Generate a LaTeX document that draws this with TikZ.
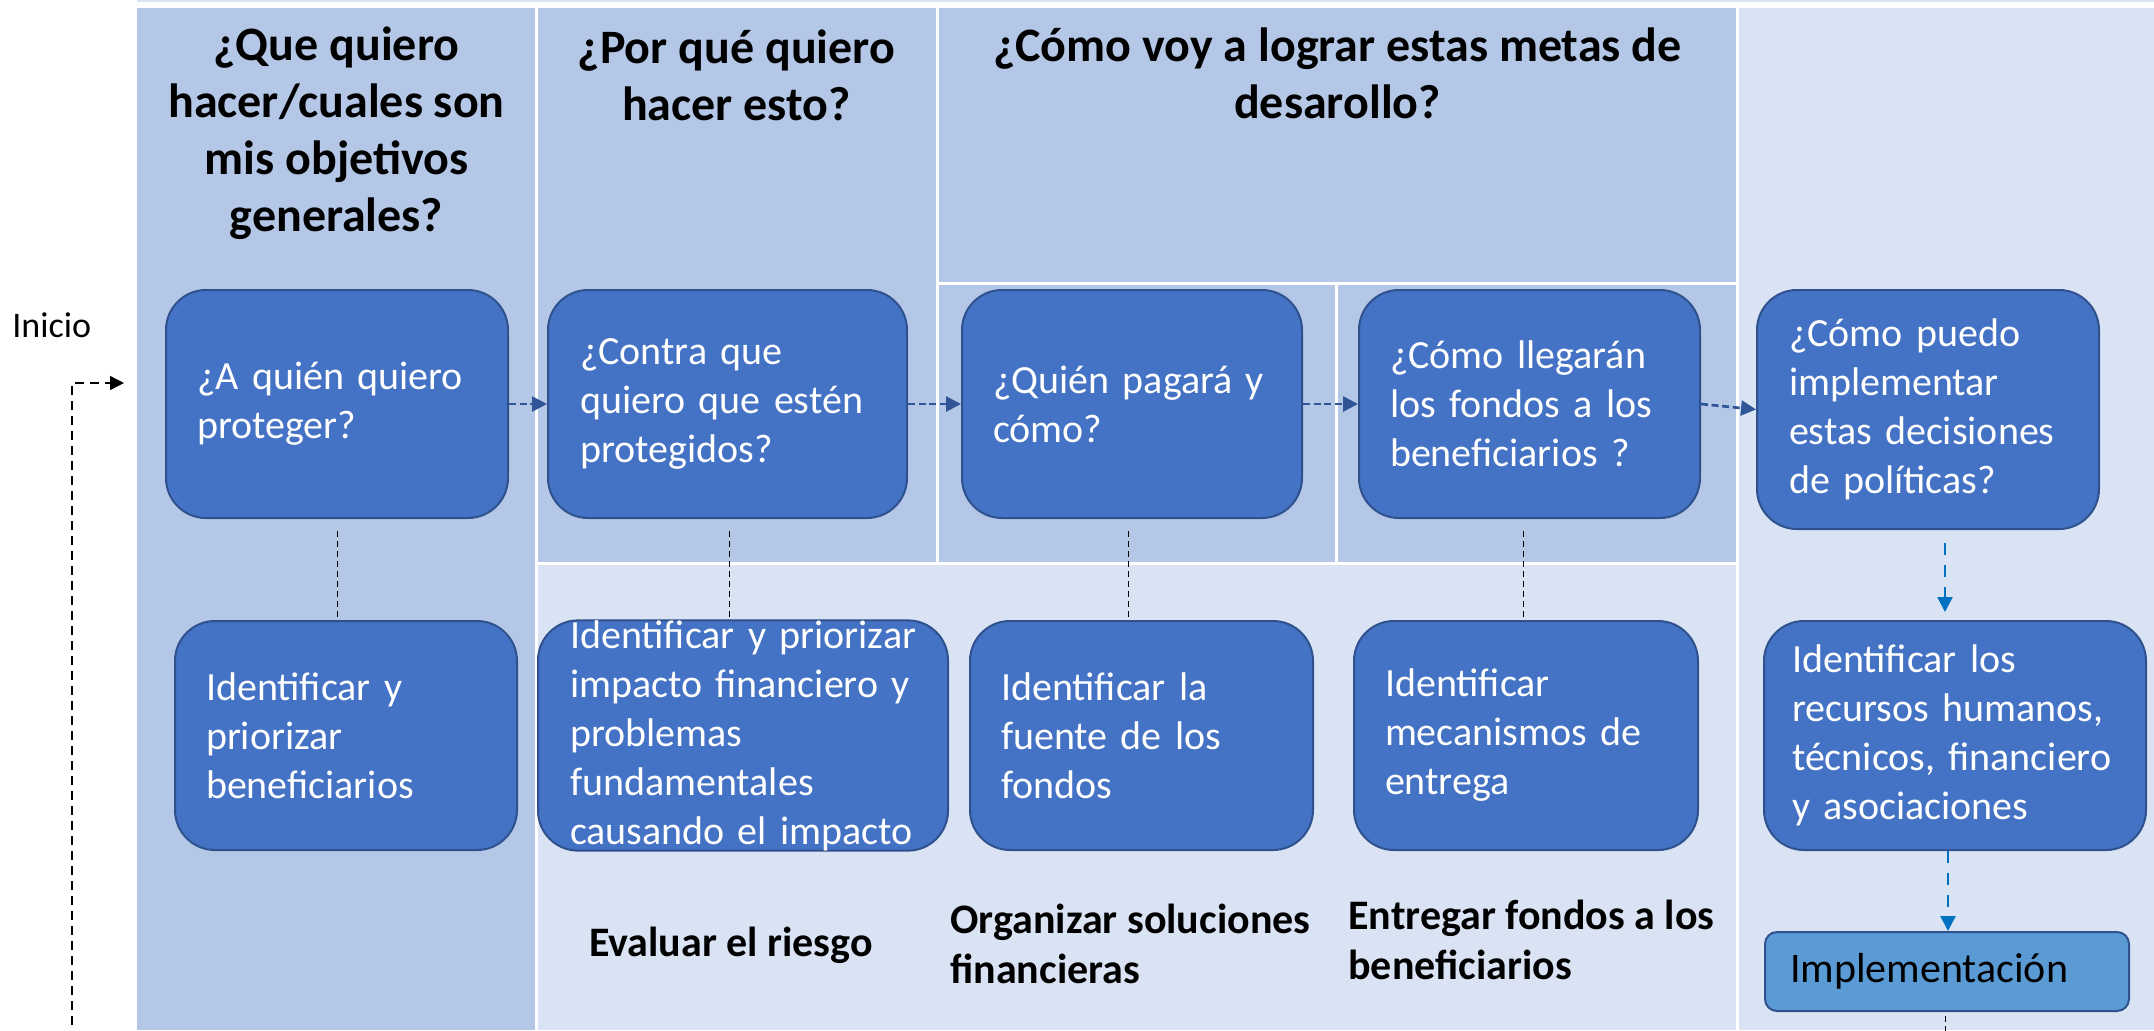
\documentclass[tikz,border=0pt]{standalone}
\usepackage{fontspec}
\setmainfont{Carlito}
\usetikzlibrary{arrows.meta}
\definecolor{midbg}{HTML}{B4C7E7}
\definecolor{lightbg}{HTML}{DAE3F3}
\definecolor{boxfill}{HTML}{4472C4}
\definecolor{boxline}{HTML}{2F528F}
\definecolor{implfill}{HTML}{5B9BD5}
\definecolor{rowarrow}{HTML}{2F5597}
\definecolor{bluearrow}{HTML}{0070C0}
\tikzset{
 qbox/.style={rounded corners=20pt, fill=boxfill, draw=boxline, line width=1pt, text=white,
   font=\fontsize{20}{24.5}\selectfont, align=left, inner sep=0pt},
 implbox/.style={rounded corners=6pt, fill=implfill, draw=boxline, line width=1pt, text=black,
   font=\fontsize{21}{25}\selectfont, align=left, inner sep=0pt},
 header/.style={font=\bfseries\fontsize{24}{28.5}\selectfont, align=center, inner sep=0pt},
 steplabel/.style={font=\bfseries\fontsize{21}{25}\selectfont, align=left, inner sep=0pt},
 startlabel/.style={font=\fontsize{18}{22}\selectfont, inner sep=0pt},
 flowarrow/.style={draw=rowarrow, line width=1.35pt, dash pattern=on 3.5pt off 1.8pt, -{Triangle[length=7.5pt,width=7.5pt]}},
 linkline/.style={draw=black, line width=0.5pt, dash pattern=on 3pt off 2pt},
 implarrow/.style={draw=bluearrow, line width=1.2pt, dash pattern=on 6pt off 5pt, -{Triangle[length=7.5pt,width=7.5pt]}},
 startarrow/.style={draw=black, line width=0.7pt, dash pattern=on 4.5pt off 3pt, -{Triangle[length=7pt,width=7pt]}},
}
\begin{document}
\begin{tikzpicture}[x=0.5pt,y=-0.5pt]
\useasboundingbox (0,0) rectangle (2154,1030);
% background panels
\fill[lightbg] (137,0) rectangle (2154,2);
\fill[midbg] (137,8) rectangle (535,1030);
\fill[midbg] (538,8) rectangle (936,562);
\fill[midbg] (939,8) rectangle (1736,282);
\fill[midbg] (939,285) rectangle (1335,562);
\fill[midbg] (1338,285) rectangle (1736,562);
\fill[lightbg] (538,565) rectangle (1736,1030);
\fill[lightbg] (1739,8) rectangle (2154,1030);

% headers
\node[header] (h1) at (336.5,133) {¿Que quiero\\hacer/cuales son\\mis objetivos\\generales?};
\node[header] (h2) at (736.5,75.5) {¿Por qué quiero\\hacer esto?};
\node[header] (h3) at (1337.5,73.5) {¿Cómo voy a lograr estas metas de\\desarollo?};

% row 1
\node[qbox, minimum width=171pt, minimum height=114pt, text width=140pt] (A) at (337,404) {¿A quién quiero\\proteger?};
\node[qbox, minimum width=179.5pt, minimum height=114pt, text width=147.5pt] (B) at (727.5,404) {¿Contra que\\quiero que estén\\protegidos?};
\node[qbox, minimum width=170pt, minimum height=114pt, text width=139pt] (C) at (1132,404) {¿Quién pagará y\\cómo?};
\node[qbox, minimum width=170.5pt, minimum height=114pt, text width=139.5pt] (D) at (1529.5,404) {¿Cómo llegarán\\los fondos a los\\beneficiarios ?};
\node[qbox, minimum width=171pt, minimum height=119.5pt, text width=139pt] (E) at (1928,409.5) {¿Cómo puedo\\implementar\\estas decisiones\\de políticas?};

% row 2
\node[qbox, minimum width=171pt, minimum height=114.5pt, text width=140pt] (F) at (346,735.5) {Identificar y\\priorizar\\beneficiarios};
\node[qbox, minimum width=205pt, minimum height=114.5pt, text width=173pt] (G) at (743,735.5) {\mbox{Identificar y priorizar}\\\mbox{impacto financiero y}\\problemas\\fundamentales\\\mbox{causando el impacto}};
\node[qbox, minimum width=171.5pt, minimum height=114.5pt, text width=140.5pt] (H) at (1141.5,735.5) {Identificar la\\fuente de los\\fondos};
\node[qbox, minimum width=172pt, minimum height=114.5pt, text width=141pt] (I) at (1526,735.5) {Identificar\\mecanismos de\\entrega};
\node[qbox, minimum width=191pt, minimum height=114.5pt, text width=163pt] (J) at (1955,735.5) {Identificar los\\\mbox{recursos humanos,}\\\mbox{técnicos, financiero}\\y asociaciones};
\node[implbox, minimum width=182pt, minimum height=39.5pt, text width=157pt] (K) at (1947,971.5) {Implementación};

% bottom labels
\node[steplabel] (L1) at (731,945) {Evaluar el riesgo};
\node[steplabel, anchor=west] (L2) at (950,943.5) {Organizar soluciones\\financieras};
\node[steplabel, anchor=west] (L3) at (1348,940) {Entregar fondos a los\\beneficiarios};

% start
\node[startlabel, anchor=west] (ini) at (12,325) {Inicio};
\coordinate (iniStart) at (72,1040);
\coordinate (iniEnd) at (124,383);
\draw[startarrow] (iniStart) |- (iniEnd);

% flow arrows
\draw[flowarrow] (A.east) -- (B.west);
\draw[flowarrow] (B.east) -- (C.west);
\draw[flowarrow] (C.east) -- (D.west);
\draw[flowarrow] (D.east) -- (E.west);

% link lines
\coordinate (aS) at (A.south);
\coordinate (bS) at ([xshift=0.75pt]B.south);
\coordinate (cS) at ([xshift=-2pt]C.south);
\coordinate (dS) at ([xshift=-3pt]D.south);
\coordinate (eS) at ([xshift=8.5pt]E.south);
\coordinate (jS) at ([xshift=-3.5pt]J.south);
\draw[linkline, shorten <=6pt] (aS) -- (F.north -| aS);
\draw[linkline, shorten <=6pt] (bS) -- (G.north -| bS);
\draw[linkline, shorten <=6pt] (cS) -- (H.north -| cS);
\draw[linkline, shorten <=6pt] (dS) -- (I.north -| dS);

% implementation arrows
\draw[implarrow, shorten <=6.5pt, shorten >=4pt] (eS) -- (J.north -| eS);
\draw[implarrow] (jS) -- (K.north -| jS);
\coordinate (endBot) at (1945,1040);
\draw[linkline, shorten <=2pt] (K.south -| endBot) -- (endBot);
\end{tikzpicture}
\end{document}
